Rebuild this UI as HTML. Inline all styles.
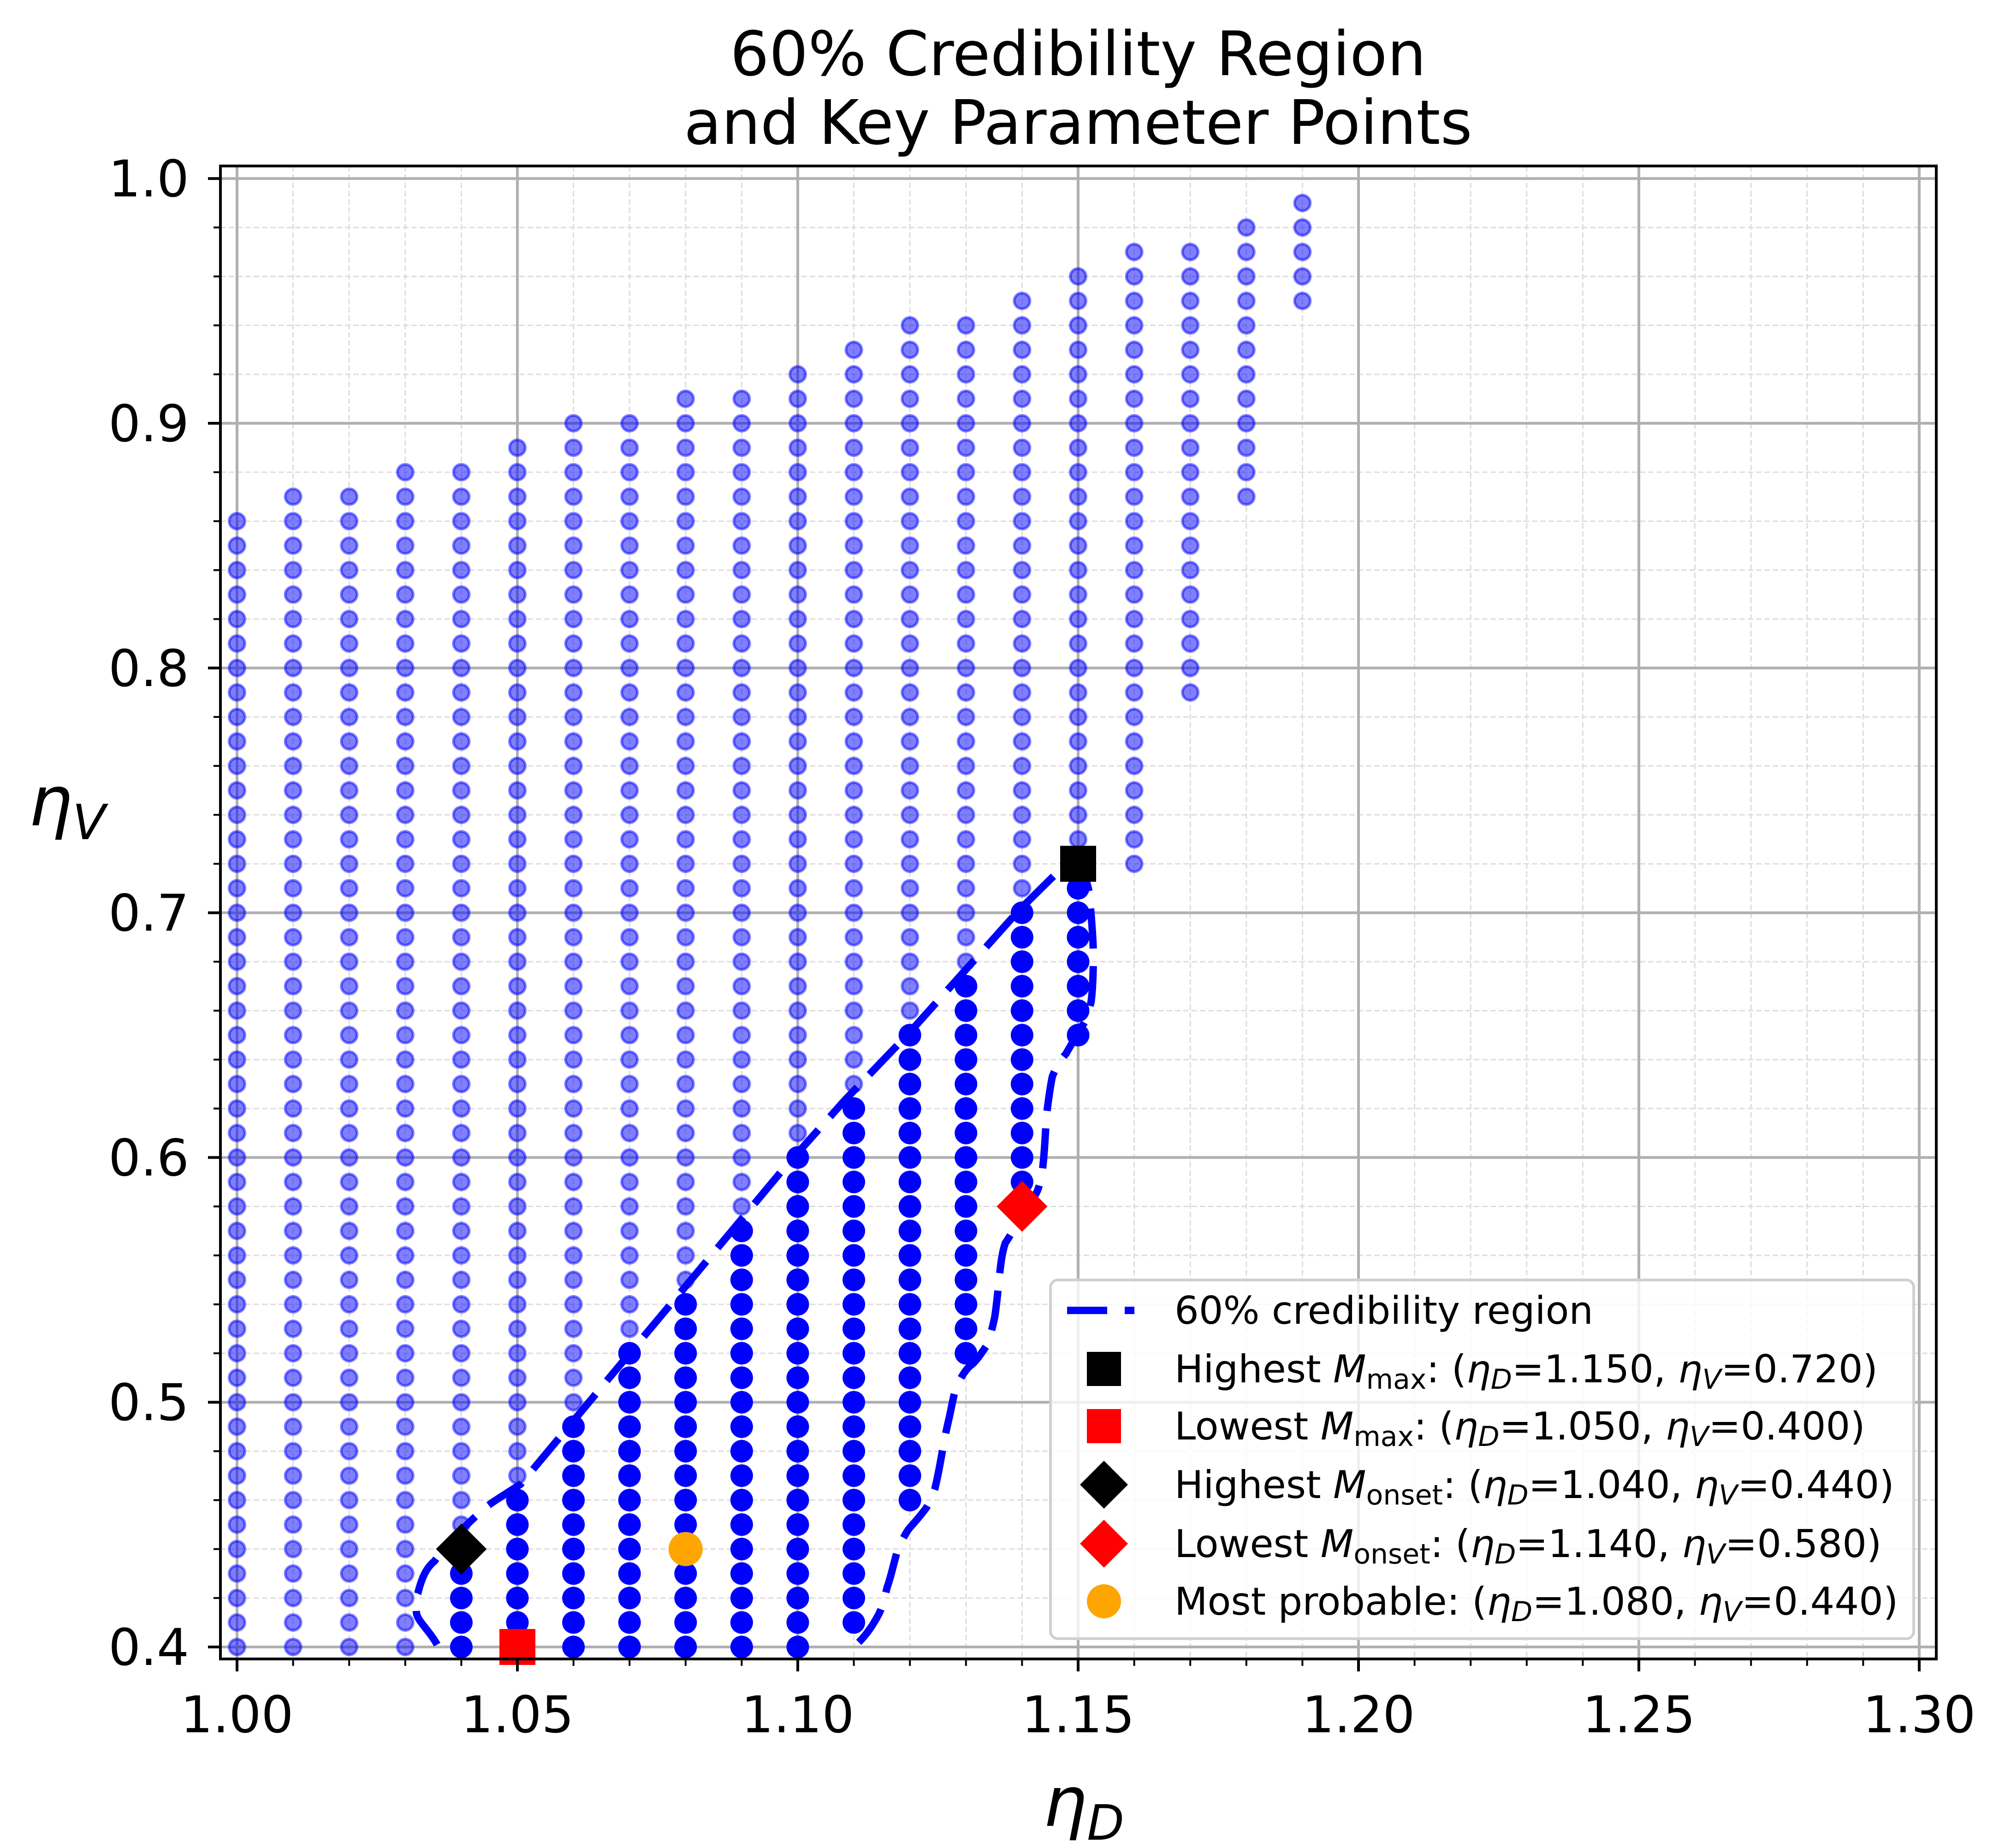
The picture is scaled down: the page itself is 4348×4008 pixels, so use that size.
<!DOCTYPE html>
<html><head><meta charset="utf-8">
<style>
html,body{margin:0;padding:0;background:#fff;}
svg{display:block;}
text{font-family:"DejaVu Sans","Liberation Sans",sans-serif;}
</style></head>
<body>
<svg id="s" xmlns="http://www.w3.org/2000/svg" width="4348" height="4008" viewBox="0 0 4348 4008">
<rect width="4348" height="4008" fill="#fff"/>
<g id="grid"></g>
<g id="dots"></g>
<path id="contour" fill="none" stroke="#0000ff" stroke-width="16" stroke-dasharray="87 38" stroke-linejoin="round"
d="M948,3567 C930,3535 905,3515 903,3498 C902,3475 904,3460 906,3456 C915,3420 925,3400 942,3386 C965,3355 985,3330 1003,3316 C1030,3290 1050,3270 1073,3255 L1129,3219 L1700,2534 L1833,2385 L1970,2242 L2098,2099 L2210,1974 L2292,1893 L2335,1872 C2355,1900 2363,1930 2363,1949 C2368,2000 2372,2060 2371,2086 C2370,2140 2368,2160 2366,2173 C2360,2200 2355,2215 2348,2223 C2330,2255 2320,2270 2312,2285 C2295,2305 2288,2320 2282,2335 C2275,2370 2272,2400 2269,2422 C2266,2480 2264,2510 2261,2534 C2256,2565 2252,2580 2246,2590 C2230,2615 2220,2640 2210,2652 C2195,2670 2188,2685 2180,2696 C2172,2720 2170,2745 2167,2770 C2163,2810 2160,2840 2157,2857 C2150,2890 2145,2905 2139,2919 C2125,2940 2115,2955 2103,2963 C2090,2975 2080,2995 2072,3013 C2065,3040 2062,3060 2057,3081 C2050,3110 2046,3135 2042,3156 C2036,3190 2032,3210 2027,3230 C2020,3250 2013,3265 2006,3274 C1990,3295 1980,3305 1970,3317 C1958,3335 1952,3350 1945,3367 C1937,3395 1932,3420 1924,3442 C1917,3470 1912,3490 1904,3504 C1890,3530 1875,3550 1858,3566"/>
<g id="markers"></g>
<g id="axes"></g>
<text x="2338" y="163" font-size="133" text-anchor="middle">60% Credibility Region</text>
<text x="2338" y="312" font-size="133" text-anchor="middle">and Key Parameter Points</text>
<text x="2350" y="3960" font-size="150" font-style="italic" text-anchor="middle">η<tspan font-size="105" dy="30">D</tspan></text>
<text x="62" y="1790" font-size="150" font-style="italic">η<tspan font-size="105" dy="30">V</tspan></text>
<g id="legend">
<rect x="2278" y="2776" width="1872" height="778" rx="16" fill="#fff" fill-opacity="0.8" stroke="#d0d0d0" stroke-width="6"/>
<line x1="2314" y1="2842" x2="2460" y2="2842" stroke="#0000ff" stroke-width="16" stroke-dasharray="87 38"/>
<rect x="2357" y="2932" width="74" height="74" fill="#000"/>
<rect x="2357" y="3056" width="74" height="74" fill="#f00"/>
<polygon points="2394,3168 2446,3220 2394,3272 2342,3220" fill="#000"/>
<polygon points="2394,3296 2446,3348 2394,3400 2342,3348" fill="#f00"/>
<circle cx="2394" cy="3473" r="37" fill="#ffa500"/>
<g font-size="83">
<text x="2547" y="2871">60% credibility region</text>
<text x="2547" y="2998">Highest <tspan font-style="italic">M</tspan><tspan font-size="60" dy="14">max</tspan><tspan dy="-14">: (</tspan><tspan font-style="italic">η</tspan><tspan font-size="60" dy="14" font-style="italic">D</tspan><tspan dy="-14">=1.150, </tspan><tspan font-style="italic">η</tspan><tspan font-size="60" dy="14" font-style="italic">V</tspan><tspan dy="-14">=0.720)</tspan></text>
<text x="2547" y="3122">Lowest <tspan font-style="italic">M</tspan><tspan font-size="60" dy="14">max</tspan><tspan dy="-14">: (</tspan><tspan font-style="italic">η</tspan><tspan font-size="60" dy="14" font-style="italic">D</tspan><tspan dy="-14">=1.050, </tspan><tspan font-style="italic">η</tspan><tspan font-size="60" dy="14" font-style="italic">V</tspan><tspan dy="-14">=0.400)</tspan></text>
<text x="2547" y="3249">Highest <tspan font-style="italic">M</tspan><tspan font-size="60" dy="14">onset</tspan><tspan dy="-14">: (</tspan><tspan font-style="italic">η</tspan><tspan font-size="60" dy="14" font-style="italic">D</tspan><tspan dy="-14">=1.040, </tspan><tspan font-style="italic">η</tspan><tspan font-size="60" dy="14" font-style="italic">V</tspan><tspan dy="-14">=0.440)</tspan></text>
<text x="2547" y="3377">Lowest <tspan font-style="italic">M</tspan><tspan font-size="60" dy="14">onset</tspan><tspan dy="-14">: (</tspan><tspan font-style="italic">η</tspan><tspan font-size="60" dy="14" font-style="italic">D</tspan><tspan dy="-14">=1.140, </tspan><tspan font-style="italic">η</tspan><tspan font-size="60" dy="14" font-style="italic">V</tspan><tspan dy="-14">=0.580)</tspan></text>
<text x="2547" y="3502">Most probable: (<tspan font-style="italic">η</tspan><tspan font-size="60" dy="14" font-style="italic">D</tspan><tspan dy="-14">=1.080, </tspan><tspan font-style="italic">η</tspan><tspan font-size="60" dy="14" font-style="italic">V</tspan><tspan dy="-14">=0.440)</tspan></text>
</g>
</g>
</svg>
<script>
(function(){
var NS="http://www.w3.org/2000/svg";
function X(u){return 514+(u-1)*12160;}
function Y(v){return 3572-(v-0.4)*5308;}
var L=478,R=4199,T=360,B=3598;
function el(p,tag,a){var e=document.createElementNS(NS,tag);for(var k in a)e.setAttribute(k,a[k]);p.appendChild(e);return e;}
var g=document.getElementById('grid');
for(var i=0;i<=30;i++){var x=X(1+i*0.01);if(i%5)el(g,'line',{x1:x,y1:T,x2:x,y2:B,stroke:'#dddddd','stroke-width':3,'stroke-dasharray':'12 6'});}
for(var i=0;i<=30;i++){var y=Y(0.4+i*0.02);if(i%5)el(g,'line',{x1:L,y1:y,x2:R,y2:y,stroke:'#dddddd','stroke-width':3,'stroke-dasharray':'12 6'});}
for(var i=0;i<=6;i++){var x=X(1+i*0.05);el(g,'line',{x1:x,y1:T,x2:x,y2:B,stroke:'#b0b0b0','stroke-width':6});}
for(var i=0;i<=6;i++){var y=Y(0.4+i*0.1);el(g,'line',{x1:L,y1:y,x2:R,y2:y,stroke:'#b0b0b0','stroke-width':6});}
var fad={0:[40,86],1:[40,87],2:[40,87],3:[40,88],4:[44,88],5:[40,89],6:[40,90],7:[40,90],8:[40,91],9:[40,91],10:[40,92],11:[41,93],12:[46,94],13:[52,94],14:[59,95],15:[72,96],16:[72,97],17:[79,97],18:[87,98],19:[95,99]};
var dk={4:[40,43],5:[40,46],6:[40,49],7:[40,52],8:[40,54],9:[40,57],10:[40,60],11:[41,62],12:[46,65],13:[52,67],14:[59,70],15:[65,71]};
var d=document.getElementById('dots');
for(var c in fad){var r=fad[c];for(var v=r[0];v<=r[1];v++){
 if(dk[c]&&v>=dk[c][0]&&v<=dk[c][1])continue;
 el(d,'circle',{cx:X(1+c*0.01),cy:Y(v/100),r:17,fill:'#0000ff','fill-opacity':0.5,stroke:'#0000ff','stroke-opacity':0.5,'stroke-width':6});}}
for(var c in dk){var r=dk[c];for(var v=r[0];v<=r[1];v++){
 el(d,'circle',{cx:X(1+c*0.01),cy:Y(v/100),r:24.5,fill:'#0000ff'});}}
var m=document.getElementById('markers');
function sq(u,v,col){el(m,'rect',{x:X(u)-39,y:Y(v)-39,width:78,height:78,fill:col});}
function di(u,v,col){var x=X(u),y=Y(v),h=55;el(m,'polygon',{points:(x)+','+(y-h)+' '+(x+h)+','+y+' '+x+','+(y+h)+' '+(x-h)+','+y,fill:col});}
sq(1.15,0.72,'#000');sq(1.05,0.40,'#f00');di(1.04,0.44,'#000');di(1.14,0.58,'#f00');
el(m,'circle',{cx:X(1.08),cy:Y(0.44),r:37,fill:'#ffa500'});
var a=document.getElementById('axes');
el(a,'rect',{x:L,y:T,width:R-L,height:B-T,fill:'none',stroke:'#000','stroke-width':6});
for(var i=0;i<=30;i++){var x=X(1+i*0.01),maj=(i%5==0);el(a,'line',{x1:x,y1:B,x2:x,y2:B+(maj?27:15),stroke:'#000','stroke-width':maj?6:4});
 if(maj){var t=el(a,'text',{x:x,y:3757,'font-size':110,'text-anchor':'middle'});t.textContent=(1+i*0.01).toFixed(2);}}
for(var i=0;i<=30;i++){var y=Y(0.4+i*0.02),maj=(i%5==0);el(a,'line',{x1:L,y1:y,x2:L-(maj?27:15),y2:y,stroke:'#000','stroke-width':maj?6:4});
 if(maj){var t=el(a,'text',{x:410,y:y+39,'font-size':110,'text-anchor':'end'});t.textContent=(0.4+i*0.02).toFixed(1);}}
})();
</script>
</body></html>
